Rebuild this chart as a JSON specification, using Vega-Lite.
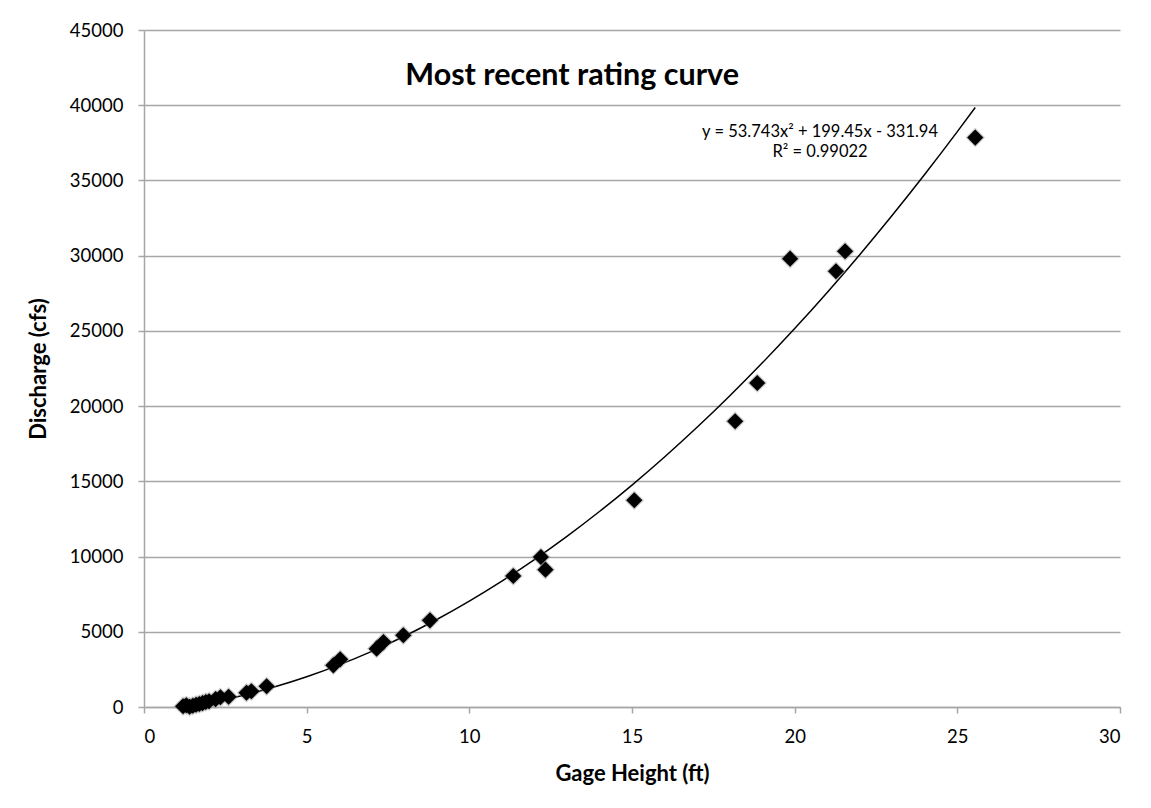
{
  "$schema": "https://vega.github.io/schema/vega-lite/v6.json",
  "autosize": "none",
  "width": 976,
  "height": 677,
  "padding": {"left": 144, "top": 30, "right": 31, "bottom": 101},
  "background": "white",
  "config": {
    "font": "Lato",
    "view": {"stroke": null},
    "axis": {
      "labelFont": "Lato",
      "labelFontSize": 18.5,
      "labelColor": "black",
      "titleFont": "Lato",
      "titleFontSize": 22,
      "titleFontWeight": "bold",
      "titleColor": "black",
      "domainColor": "#a6a6a6",
      "domainWidth": 1.5,
      "tickColor": "#a6a6a6",
      "tickWidth": 1.5,
      "tickSize": 6,
      "gridColor": "#a6a6a6",
      "gridWidth": 1.5
    }
  },
  "datasets": {
    "points": [
      {"gage": 1.2, "q": 50}, {"gage": 1.3, "q": 120}, {"gage": 1.4, "q": 20},
      {"gage": 1.5, "q": 80}, {"gage": 1.6, "q": 150}, {"gage": 1.7, "q": 200},
      {"gage": 1.8, "q": 260}, {"gage": 1.9, "q": 330}, {"gage": 2.0, "q": 380},
      {"gage": 2.2, "q": 520}, {"gage": 2.35, "q": 650}, {"gage": 2.6, "q": 680},
      {"gage": 3.15, "q": 950}, {"gage": 3.3, "q": 1050}, {"gage": 3.77, "q": 1380},
      {"gage": 5.82, "q": 2770}, {"gage": 6.03, "q": 3170}, {"gage": 7.15, "q": 3880},
      {"gage": 7.36, "q": 4320}, {"gage": 7.97, "q": 4770}, {"gage": 8.79, "q": 5760},
      {"gage": 11.35, "q": 8710}, {"gage": 12.2, "q": 9970}, {"gage": 12.34, "q": 9130},
      {"gage": 15.07, "q": 13740}, {"gage": 18.17, "q": 18990}, {"gage": 18.85, "q": 21540},
      {"gage": 19.86, "q": 29800}, {"gage": 21.27, "q": 28960}, {"gage": 21.55, "q": 30290},
      {"gage": 25.55, "q": 37850}
    ],
    "trend": [
      {"gage": 1.25, "q": 0}, {"gage": 2, "q": 282}, {"gage": 3, "q": 750},
      {"gage": 4, "q": 1326}, {"gage": 5, "q": 2009}, {"gage": 6, "q": 2800},
      {"gage": 7, "q": 3698}, {"gage": 8, "q": 4703}, {"gage": 9, "q": 5816},
      {"gage": 10, "q": 7037}, {"gage": 11, "q": 8365}, {"gage": 12, "q": 9801},
      {"gage": 13, "q": 11344}, {"gage": 14, "q": 12994}, {"gage": 15, "q": 14752},
      {"gage": 16, "q": 16618}, {"gage": 17, "q": 18590}, {"gage": 18, "q": 20671},
      {"gage": 19, "q": 22859}, {"gage": 20, "q": 25154}, {"gage": 21, "q": 27557},
      {"gage": 22, "q": 30068}, {"gage": 23, "q": 32685}, {"gage": 24, "q": 35411},
      {"gage": 25, "q": 38244}, {"gage": 25.55, "q": 39848}
    ]
  },
  "layer": [
    {
      "data": {"name": "trend"},
      "mark": {"type": "line", "color": "black", "strokeWidth": 1.5, "clip": true, "interpolate": "monotone"},
      "encoding": {
        "x": {"field": "gage", "type": "quantitative", "scale": {"domain": [0, 30], "nice": false},
          "axis": {"title": "Gage Height (ft)", "values": [0, 5, 10, 15, 20, 25, 30], "grid": false, "labelPadding": 14, "titlePadding": 18}},
        "y": {"field": "q", "type": "quantitative", "scale": {"domain": [0, 45000], "nice": false},
          "axis": {"title": "Discharge (cfs)", "values": [0, 5000, 10000, 15000, 20000, 25000, 30000, 35000, 40000, 45000], "format": "d", "grid": true, "labelPadding": 15, "titlePadding": 19}}
      }
    },
    {
      "data": {"name": "points"},
      "mark": {"type": "point", "shape": "diamond", "filled": true, "color": "#8a8a8a", "opacity": 0.45, "size": 380, "dx": 1.5, "dy": 2},
      "encoding": {
        "x": {"field": "gage", "type": "quantitative"},
        "y": {"field": "q", "type": "quantitative"}
      }
    },
    {
      "data": {"name": "points"},
      "mark": {"type": "point", "shape": "diamond", "filled": true, "color": "black", "opacity": 1, "size": 260},
      "encoding": {
        "x": {"field": "gage", "type": "quantitative"},
        "y": {"field": "q", "type": "quantitative"}
      }
    },
    {
      "data": {"values": [{}]},
      "mark": {"type": "text", "text": "Most recent rating curve", "font": "Lato", "fontSize": 30.5, "fontWeight": "bold", "color": "black", "align": "center", "baseline": "alphabetic"},
      "encoding": {"x": {"datum": 13.16}, "y": {"datum": 41330}}
    },
    {
      "data": {"values": [{}]},
      "mark": {"type": "text", "text": ["y = 53.743x² + 199.45x - 331.94", "R² = 0.99022"], "font": "Lato", "fontSize": 16.5, "lineHeight": 20, "color": "black", "align": "center", "baseline": "middle"},
      "encoding": {"x": {"datum": 20.78}, "y": {"datum": 38200}}
    }
  ]
}
